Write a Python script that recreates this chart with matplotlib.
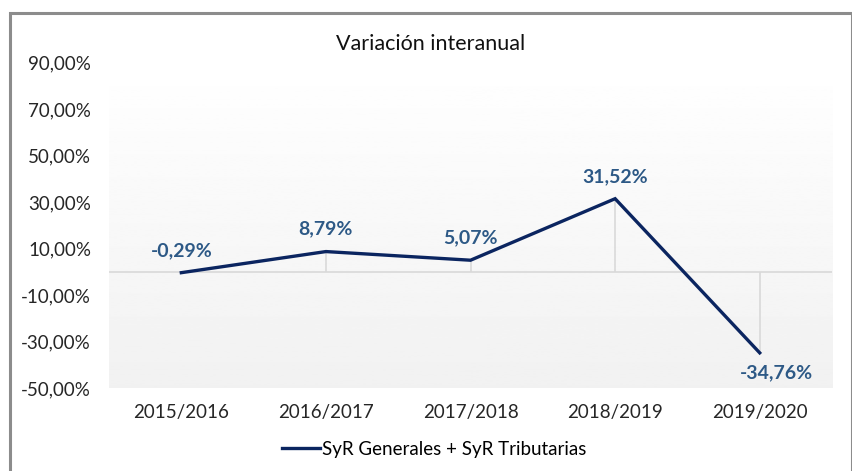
"""Variación interanual - SyR Generales + SyR Tributarias."""

import numpy as np
import matplotlib
matplotlib.use("Agg")
import matplotlib.pyplot as plt
from matplotlib.patches import Rectangle

plt.rcParams["font.family"] = ["Lato", "DejaVu Sans"]

# Data
periods = ["2015/2016", "2016/2017", "2017/2018", "2018/2019", "2019/2020"]
variation = [-0.29, 8.79, 5.07, 31.52, -34.76]
labels = ["-0,29%", "8,79%", "5,07%", "31,52%", "-34,76%"]
yticks = [-50, -30, -10, 10, 30, 50, 70, 90]

LINE = "#0b2560"
LABEL = "#2d5986"
GRID = "#d9d9d9"

fig = plt.figure(figsize=(8.53, 4.71), dpi=100)
ax = fig.add_axes([0.1278, 0.1756, 0.8476, 0.6913])
x = np.arange(len(periods))

# Gradient background (light gray at bottom -> white at top)
grad = np.linspace(0.945, 1.0, 256).reshape(-1, 1)
ax.imshow(grad, extent=[-0.5, 4.5, -50, 90], origin="lower", cmap="gray",
          vmin=0, vmax=1, aspect="auto", zorder=0)

# Zero line and drop lines
ax.axhline(0, color=GRID, linewidth=1.2, zorder=1)
ax.vlines(x, 0, variation, color=GRID, linewidth=1.2, zorder=1)

ax.plot(x, variation, color=LINE, linewidth=2.4, zorder=3,
        label="SyR Generales + SyR Tributarias", solid_joinstyle="miter")

# Data labels (points offset)
offsets = [(0, 10), (0, 10), (0, 10), (0, 10), (12, -8)]
for xi, v, lab, off in zip(x, variation, labels, offsets):
    ax.annotate(lab, (xi, v), xytext=off, textcoords="offset points",
                ha="center", va="bottom" if off[1] > 0 else "top",
                color=LABEL, fontsize=14, fontweight="bold", zorder=4)

ax.set_xlim(-0.5, 4.5)
ax.set_ylim(-50, 90)
ax.set_yticks(yticks)
ax.set_yticklabels([f"{t},00%" for t in yticks])
ax.set_xticks(x)
ax.set_xticklabels(periods)
ax.tick_params(axis="y", length=0, pad=13, labelsize=13.5, colors="#262626")
ax.tick_params(axis="x", length=0, pad=11, labelsize=13.5, colors="#262626")
for s in ax.spines.values():
    s.set_visible(False)

fig.text(0.505, 0.906, "Variación interanual", ha="center", va="center",
         fontsize=15.5, color="#111111")

fig.legend(loc="center", bbox_to_anchor=(0.509, 1 - 449 / 471), frameon=False,
           fontsize=13.5, handlelength=2.0, handletextpad=0.1)

# Outer frame
fig.patches.append(Rectangle((10 / 853, -0.01), 842 / 853, 1 - 13 / 471 + 0.01,
                             transform=fig.transFigure, fill=False,
                             edgecolor="#8c8c8c", linewidth=2.2))

fig.savefig("out.png", dpi=100)
